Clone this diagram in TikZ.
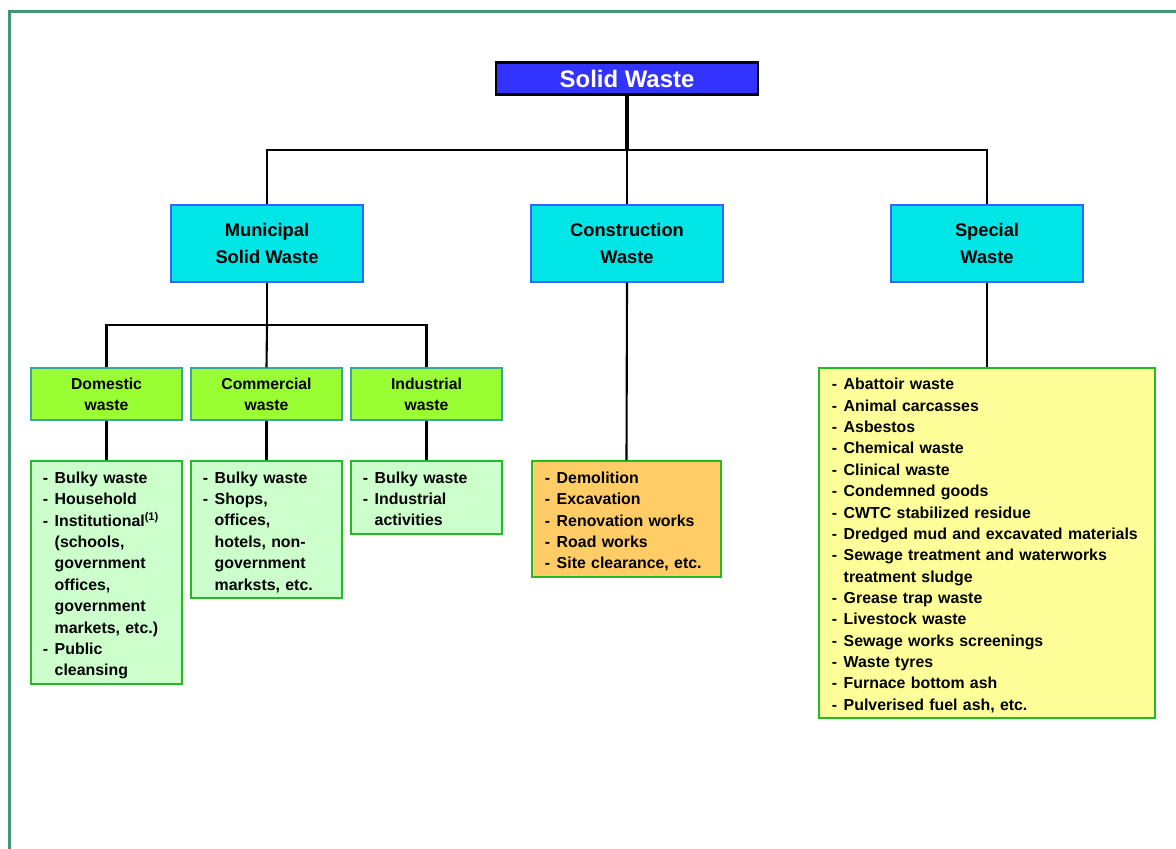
\documentclass[tikz,border=0pt]{standalone}
\usepackage{fontspec}
\setmainfont{Liberation Sans}
\usepackage{array}

\definecolor{swblue}{HTML}{3333FF}
\definecolor{mcyan}{HTML}{00E6E6}
\definecolor{mblue}{HTML}{3366FF}
\definecolor{sgreen}{HTML}{99FF33}
\definecolor{steal}{HTML}{33AA99}
\definecolor{lgreen}{HTML}{CCFFCC}
\definecolor{lborder}{HTML}{22BB22}
\definecolor{corange}{HTML}{FFCC66}
\definecolor{pyellow}{HTML}{FFFF99}
\definecolor{framegreen}{HTML}{3D9970}

\newcommand{\wlist}[1]{\begin{tabular}{@{}l@{\hspace{4.6pt}}l@{}}\rule{0pt}{14.6pt}#1\end{tabular}}

\begin{document}
\begin{tikzpicture}[
	  x=0.025cm, y=-0.025cm,
	  top/.style={draw=black, line width=2pt, fill=swblue, text=white,
	    font=\fontsize{17}{20}\selectfont\bfseries,
	    minimum width=6.55cm, minimum height=0.8cm, inner sep=0pt},
	  mid/.style={draw=mblue, line width=0.8pt, fill=mcyan, align=center,
	    font=\fontsize{13}{19}\selectfont\bfseries,
	    minimum width=4.8cm, minimum height=1.925cm, inner sep=0pt},
	  sub/.style={draw=steal, line width=0.8pt, fill=sgreen, align=center,
	    font=\fontsize{11.2}{15}\selectfont\bfseries,
	    minimum width=3.775cm, minimum height=1.3cm, inner sep=0pt},
	  lst/.style={draw=lborder, line width=0.8pt, align=left,
	    font=\fontsize{11.3}{15.2}\selectfont\bfseries,
	    inner xsep=0.3cm, inner ysep=0pt, text width=#1},
	  link/.style={line width=1.5pt},
	]

	\useasboundingbox (0,0) rectangle (1176,848);
	\draw [framegreen, line width=2pt] (9.5,11.5) rectangle (1200,900);

	% top level
	\node [top] (sw) at (627,78.5) {Solid Waste};

	\node [mid] (msw) at (267,243.5) {Municipal\\Solid Waste};
	\node [mid] (cw) at (627,243.5) {Construction\\Waste};
	\node [mid] (spw) at (987,243.5) {Special\\Waste};

	\coordinate (j1) at (627,150);
	\draw [line width=2.4pt] (sw.south) -- (j1);
	\draw [link] (j1) -| (msw.north);
	\draw [link] (j1) -| (spw.north);
	\draw [line width=1.1pt] (j1) -- (cw.north);

	% municipal solid waste
	\node [sub] (dom) at (106.5,394) {Domestic\\waste};
	\node [sub] (com) at (266.5,394) {Commercial\\waste};
	\node [sub] (ind) at (426.5,394) {Industrial\\waste};

	\coordinate (j2) at (267,325);
	\draw [link] (msw.south) -- (j2);
	\draw [link] (j2) -| (dom.north);
	\draw [link] (j2) -| (ind.north);
	\draw [link] (j2) -- (com.north);

	\node [lst=3.175cm, fill=lgreen, minimum height=5.575cm] (domlist) at (106.5,572.5)
	  {\wlist{- & Bulky waste\\ - & Household\\ - & Institutional\textsuperscript{(1)}\\
	    & (schools,\\ & government\\ & offices,\\ & government\\ & markets, etc.)\\
	    - & Public\\ & cleansing}};
	\node [lst=3.175cm, fill=lgreen, minimum height=3.425cm] (comlist) at (266.5,529.5)
	  {\wlist{- & Bulky waste\\ - & Shops,\\ & offices,\\ & hotels, non-\\
	    & government\\ & marksts, etc.}};
	\node [lst=3.175cm, fill=lgreen, minimum height=1.825cm] (indlist) at (426.5,497.5)
	  {\wlist{- & Bulky waste\\ - & Industrial\\ & activities}};

	\draw [link] (dom.south) -- (domlist.north);
	\draw [link] (com.south) -- (comlist.north);
	\draw [link] (ind.south) -- (indlist.north);

	% construction waste
	\node [lst=4.075cm, fill=corange, minimum height=2.9cm, inner xsep=0.325cm] (cwlist) at (626.5,519)
	  {\wlist{- & Demolition\\ - & Excavation\\ - & Renovation works\\
	    - & Road works\\ - & Site clearance, etc.}};
	\draw [link] (cw.south) -- (cwlist.north);

	% special waste
	\node [lst=7.75cm, fill=pyellow, minimum height=8.75cm, inner xsep=0.325cm] (splist) at (987,543)
	  {\wlist{- & Abattoir waste\\ - & Animal carcasses\\ - & Asbestos\\
	    - & Chemical waste\\ - & Clinical waste\\ - & Condemned goods\\
	    - & CWTC stabilized residue\\ - & Dredged mud and excavated materials\\
	    - & Sewage treatment and waterworks\\ & treatment sludge\\
	    - & Grease trap waste\\ - & Livestock waste\\ - & Sewage works screenings\\
	    - & Waste tyres\\ - & Furnace bottom ash\\ - & Pulverised fuel ash, etc.}};
	\draw [link] (spw.south) -- (splist.north);
\end{tikzpicture}
\end{document}
